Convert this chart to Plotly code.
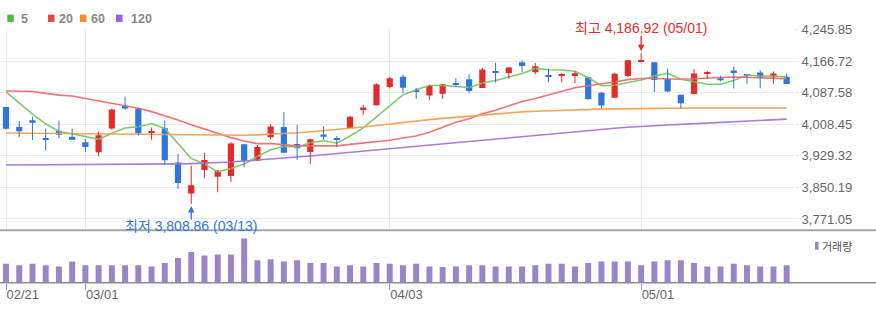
import plotly.graph_objects as go

# ---------------- data ----------------
dates = ["02/21", "02/22", "02/23", "02/24", "02/27", "02/28",
         "03/01", "03/02", "03/03", "03/06", "03/07", "03/08", "03/09", "03/10",
         "03/13", "03/14", "03/15", "03/16", "03/17", "03/20", "03/21", "03/22",
         "03/23", "03/24", "03/27", "03/28", "03/29", "03/30", "03/31",
         "04/03", "04/04", "04/05", "04/06", "04/10", "04/11", "04/12", "04/13",
         "04/14", "04/17", "04/18", "04/19", "04/20", "04/21", "04/24", "04/25",
         "04/26", "04/27", "04/28",
         "05/01", "05/02", "05/03", "05/04", "05/05", "05/08", "05/09", "05/10",
         "05/11", "05/12", "05/15", "05/16"]

open_ = [4052.35, 4001.83, 4018.60, 3973.24, 3992.36, 3977.19, 3963.34, 3938.68, 3998.02, 4055.15,
         4048.26, 3987.55, 3998.66, 3912.77, 3835.12, 3894.01, 3876.74, 3878.93, 3958.69, 3917.47,
         3975.89, 4002.04, 3959.21, 3939.21, 3982.93, 3974.13, 3999.53, 4046.74, 4056.18, 4102.20,
         4128.03, 4094.50, 4081.15, 4085.20, 4110.29, 4121.72, 4100.04, 4140.11, 4137.17, 4164.26,
         4139.33, 4130.48, 4132.14, 4132.07, 4126.43, 4087.78, 4075.29, 4129.63, 4166.79, 4164.10,
         4122.25, 4082.61, 4084.73, 4136.98, 4124.25, 4143.74, 4132.24, 4138.54, 4126.65, 4127.95]
high = [4052.35, 4017.37, 4028.30, 3998.00, 4018.05, 3997.50, 3971.73, 3990.84, 4048.29, 4078.49,
        4050.00, 4000.41, 4017.81, 3934.05, 3905.05, 3937.29, 3894.26, 3964.46, 3958.91, 3956.62,
        4009.08, 4039.49, 4007.66, 3972.74, 4003.83, 3979.20, 4030.59, 4057.85, 4110.75, 4127.66,
        4133.13, 4099.69, 4107.32, 4109.50, 4124.26, 4134.37, 4150.26, 4163.19, 4151.72, 4169.48,
        4162.57, 4148.57, 4138.02, 4142.41, 4126.43, 4089.67, 4138.24, 4170.06, 4186.92, 4164.10,
        4148.30, 4082.61, 4147.02, 4142.30, 4130.35, 4154.28, 4132.80, 4143.74, 4141.25, 4135.54]
low = [3995.19, 3976.90, 3969.19, 3943.08, 3973.55, 3968.98, 3939.05, 3928.16, 3995.17, 4044.61,
       3980.31, 3969.76, 3908.70, 3846.32, 3808.86, 3873.63, 3838.24, 3864.11, 3901.27, 3916.89,
       3971.19, 3936.17, 3919.05, 3909.16, 3970.49, 3951.53, 3999.53, 4032.10, 4056.18, 4098.79,
       4086.87, 4072.56, 4069.84, 4072.55, 4102.61, 4086.94, 4099.40, 4113.20, 4123.18, 4140.36,
       4134.49, 4114.57, 4113.86, 4111.71, 4071.38, 4049.35, 4075.29, 4127.18, 4164.12, 4089.72,
       4088.86, 4048.28, 4084.73, 4123.81, 4116.65, 4098.92, 4109.29, 4099.12, 4110.27, 4109.86]
close = [3997.34, 3991.05, 4012.32, 3970.04, 3982.24, 3970.15, 3951.39, 3981.35, 4045.64, 4048.42,
         3986.37, 3992.01, 3918.32, 3861.59, 3855.76, 3919.29, 3891.93, 3960.28, 3916.64, 3951.57,
         4002.87, 3936.97, 3948.72, 3970.99, 3977.53, 3971.27, 4027.81, 4050.83, 4109.31, 4124.51,
         4100.60, 4090.38, 4105.02, 4109.11, 4108.94, 4091.95, 4146.22, 4137.64, 4151.32, 4154.87,
         4154.52, 4129.79, 4133.52, 4137.04, 4071.63, 4055.99, 4135.35, 4169.48, 4167.87, 4119.58,
         4090.75, 4061.22, 4136.25, 4138.12, 4119.17, 4137.64, 4130.62, 4124.08, 4136.28, 4109.90]

ma5 = [4090.11, 4061.10, 4034.04, 4009.97, 3990.60, 3985.16, 3977.23, 3971.03, 3986.15, 3999.39,
       4002.63, 4010.76, 3998.15, 3961.34, 3922.81, 3909.39, 3889.38, 3897.77, 3908.78, 3927.94,
       3944.66, 3953.67, 3951.35, 3962.22, 3967.42, 3961.10, 3979.26, 3999.69, 4027.35, 4056.75,
       4082.61, 4095.13, 4105.96, 4105.92, 4102.81, 4101.08, 4112.25, 4118.77, 4127.21, 4136.40,
       4148.91, 4145.63, 4144.80, 4141.95, 4125.30, 4105.59, 4106.71, 4113.90, 4120.06, 4129.65,
       4136.61, 4121.78, 4115.13, 4109.18, 4109.10, 4118.48, 4132.36, 4129.93, 4129.56, 4127.70]
ma20 = [4092.34, 4091.04, 4090.85, 4086.33, 4081.91, 4079.53, 4073.27, 4066.38, 4059.67, 4055.27,
        4049.03, 4040.43, 4030.46, 4019.46, 4007.73, 3996.83, 3984.62, 3975.25, 3966.56, 3960.19,
        3960.46, 3957.76, 3954.58, 3954.63, 3954.39, 3954.45, 3958.27, 3961.74, 3964.92, 3968.73,
        3974.44, 3979.36, 3988.69, 4001.07, 4013.73, 4022.36, 4035.08, 4043.94, 4055.68, 4065.84,
        4073.43, 4083.07, 4092.31, 4100.61, 4105.31, 4109.55, 4114.93, 4120.86, 4123.79, 4123.54,
        4123.05, 4121.59, 4123.15, 4124.60, 4125.11, 4127.40, 4126.62, 4125.94, 4125.19, 4122.94]
ma60 = [3987.0, 3986.6, 3986.2, 3985.8, 3985.4, 3985.0, 3984.6, 3984.3, 3984.0, 3983.7,
        3983.3, 3982.9, 3982.4, 3981.8, 3981.2, 3980.7, 3980.4, 3980.6, 3981.2, 3982.2,
        3983.6, 3985.3, 3987.4, 3989.8, 3992.4, 3995.3, 3998.4, 4001.8, 4005.6, 4009.6,
        4013.4, 4017.0, 4020.4, 4023.6, 4026.6, 4029.3, 4031.9, 4034.2, 4036.9, 4039.8,
        4041.4, 4042.8, 4044.0, 4045.1, 4046.0, 4046.8, 4047.5, 4048.1, 4048.7, 4049.2,
        4049.3, 4049.3, 4049.4, 4049.4, 4049.5, 4049.5, 4049.6, 4049.6, 4049.6, 4049.7]
ma120 = [3906.6, 3906.7, 3906.8, 3906.9, 3907.0, 3907.1, 3907.2, 3907.3, 3907.4, 3907.5,
         3907.6, 3908.0, 3908.6, 3909.3, 3910.1, 3911.0, 3912.0, 3914.2, 3916.4, 3918.6,
         3920.8, 3923.1, 3926.1, 3929.2, 3932.2, 3935.3, 3938.4, 3941.5, 3944.6, 3947.7,
         3950.8, 3953.9, 3957.0, 3960.0, 3963.1, 3966.3, 3969.4, 3972.5, 3975.7, 3978.8,
         3981.9, 3985.0, 3988.2, 3991.3, 3993.8, 3996.3, 3998.7, 4001.2, 4003.7, 4005.3,
         4007.0, 4008.6, 4010.2, 4011.9, 4013.5, 4015.1, 4016.7, 4018.4, 4020.0, 4021.6]

volume = [3.97, 3.70, 3.97, 3.70, 3.43, 4.45, 3.70, 3.70, 3.70, 3.70,
          3.70, 3.43, 4.18, 5.21, 6.51, 5.75, 5.96, 5.96, 9.32, 4.73,
          4.93, 4.45, 4.73, 4.18, 4.18, 3.43, 3.70, 3.43, 4.18, 3.97,
          3.70, 3.97, 3.43, 3.29, 3.43, 3.70, 3.70, 3.43, 3.43, 3.43,
          3.70, 3.97, 3.97, 3.43, 4.18, 4.45, 4.45, 4.45, 3.70, 4.45,
          4.73, 4.73, 4.18, 3.43, 3.43, 3.97, 3.70, 3.43, 3.43, 3.70]

label_dates = ["02/21", "03/01", "04/03", "05/01"]
y_ticks = [3771.05, 3850.19, 3929.32, 4008.45, 4087.58, 4166.72, 4245.85]

ma_names = ["5", "20", "60", "120"]
ma_series = [ma5, ma20, ma60, ma120]
ma_line_colors = ["#7dcb6a", "#f27373", "#f6a457", "#a97cd9"]
ma_legend_colors = ["#4cbb3c", "#e94747", "#f5892a", "#a060d4"]

high_idx = high.index(max(high))
low_idx = low.index(min(low))

# ---------------- style ----------------
W, H = 876, 324
UP, DOWN = "#e52a2a", "#2f76dc"
VOL = "#9b84c8"
GRID = "#ebebeb"
TXT = "#666666"
FONT = "Liberation Sans, Noto Sans CJK KR, sans-serif"

def py(p):
    return 1 - p / H

def px(p):
    return p / W

x = list(range(len(dates)))
xr = [-0.4534, 59.553]
xdom = [0, 794 / W]

fig = go.Figure()

# moving averages
for name, s, c in zip(ma_names, ma_series, ma_line_colors):
    fig.add_trace(go.Scatter(x=x, y=s, mode="lines", name=name,
                             line=dict(color=c, width=1.6), hoverinfo="skip"))

# wicks
for col, cond in ((UP, lambda o, c: c > o), (DOWN, lambda o, c: c <= o)):
    wx, wy = [], []
    for i in x:
        if cond(open_[i], close[i]):
            wx += [i, i, None]
            wy += [low[i], high[i], None]
    fig.add_trace(go.Scatter(x=wx, y=wy, mode="lines", line=dict(color=col, width=1),
                             hoverinfo="skip"))

# bodies
base = [min(o, c) for o, c in zip(open_, close)]
body = [max(abs(c - o), 2.2) for o, c in zip(open_, close)]
bcol = [UP if c > o else DOWN for o, c in zip(open_, close)]
fig.add_trace(go.Bar(x=x, y=body, base=base, width=0.47, marker=dict(color=bcol, line=dict(width=0)),
                     hoverinfo="skip"))

# volume
fig.add_trace(go.Bar(x=x, y=volume, width=0.45, marker=dict(color=VOL, line=dict(width=0)),
                     xaxis="x2", yaxis="y2", hoverinfo="skip"))

tickvals = [dates.index(d) for d in label_dates]

fig.update_layout(
    width=W, height=H, margin=dict(l=0, r=0, t=0, b=0),
    paper_bgcolor="white", plot_bgcolor="white", showlegend=False,
    barmode="overlay",
    font=dict(family=FONT, size=13, color=TXT),
    xaxis=dict(domain=xdom, range=xr, tickvals=tickvals, showticklabels=False,
               showgrid=True, gridcolor=GRID, gridwidth=1, zeroline=False, ticks="",
               anchor="y"),
    yaxis=dict(domain=[py(228.3), py(22.5)], range=[3742.5, 4247.8], side="right",
               tickvals=y_ticks, ticktext=[f"{v:,.2f}" for v in y_ticks],
               showgrid=True, gridcolor=GRID, gridwidth=1, zeroline=False,
               ticks="outside", ticklen=4, tickcolor=GRID,
               tickfont=dict(size=13, color=TXT), anchor="x"),
    xaxis2=dict(domain=xdom, range=xr, tickvals=tickvals, ticktext=label_dates,
                ticks="outside", ticklen=6, tickcolor="#9a9a9a", showgrid=False,
                zeroline=False, showline=False, anchor="y2",
                ticklabelposition="outside right",
                tickfont=dict(size=13, color=TXT)),
    yaxis2=dict(domain=[py(281.7), py(232)], range=[0, 10.3], visible=False, anchor="x2"),
)

shapes = [
    dict(type="line", xref="paper", yref="paper", x0=0, x1=1, y0=py(228.3), y1=py(228.3),
         line=dict(color="#a6a6a6", width=2), layer="above"),
    dict(type="line", xref="paper", yref="paper", x0=0, x1=1, y0=py(281.8), y1=py(281.8),
         line=dict(color="#8c8c8c", width=1.5), layer="above"),
    dict(type="rect", xref="paper", yref="paper", x0=px(815), x1=px(818.5),
         y0=py(248), y1=py(240), fillcolor=VOL, line=dict(width=0)),
]
annotations = []

# custom legend
leg_sq_x = [7.3, 48, 80, 116]
leg_tx_x = [18.5, 57, 89, 129]
for name, c, sx, tx in zip(ma_names, ma_legend_colors, leg_sq_x, leg_tx_x):
    shapes.append(dict(type="rect", xref="paper", yref="paper", x0=px(sx), x1=px(sx + 6.5),
                       y0=py(15.3), y1=py(7.8), fillcolor=c, line=dict(width=0)))
    annotations.append(dict(xref="paper", yref="paper", x=px(tx), y=py(11.8), text=f"<b>{name}</b>",
                            showarrow=False, xanchor="left", yanchor="middle",
                            font=dict(size=12.5, color="#888888", family=FONT)))

annotations.append(dict(xref="paper", yref="paper", x=px(819.5), y=py(244), text="거래량",
                        showarrow=False, xanchor="left", yanchor="middle",
                        font=dict(size=11, color="#555555", family="Noto Sans CJK KR")))

# high / low markers
annotations.append(dict(xref="x", yref="paper", x=high_idx, y=py(21.5),
                        text=f"최고 {max(high):,.2f} ({dates[high_idx]})", showarrow=False,
                        xanchor="center", yanchor="middle",
                        font=dict(size=14, color="#ee2b2b", family=FONT)))
annotations.append(dict(xref="x", yref="y", x=high_idx, y=max(high), text="", showarrow=True,
                        ax=0, ay=-19, arrowhead=2, arrowsize=1, arrowwidth=1.3,
                        arrowcolor="#ee2b2b", standoff=2))
annotations.append(dict(xref="x", yref="paper", x=low_idx, y=py(223.5),
                        text=f"최저 {min(low):,.2f} ({dates[low_idx]})", showarrow=False,
                        xanchor="center", yanchor="middle",
                        font=dict(size=14, color="#2f76dc", family=FONT)))
annotations.append(dict(xref="x", yref="y", x=low_idx, y=min(low), text="", showarrow=True,
                        ax=0, ay=17, arrowhead=2, arrowsize=1, arrowwidth=1.3,
                        arrowcolor="#2f76dc", standoff=2))

fig.update_layout(shapes=shapes, annotations=annotations)
fig.write_html("out.html")
